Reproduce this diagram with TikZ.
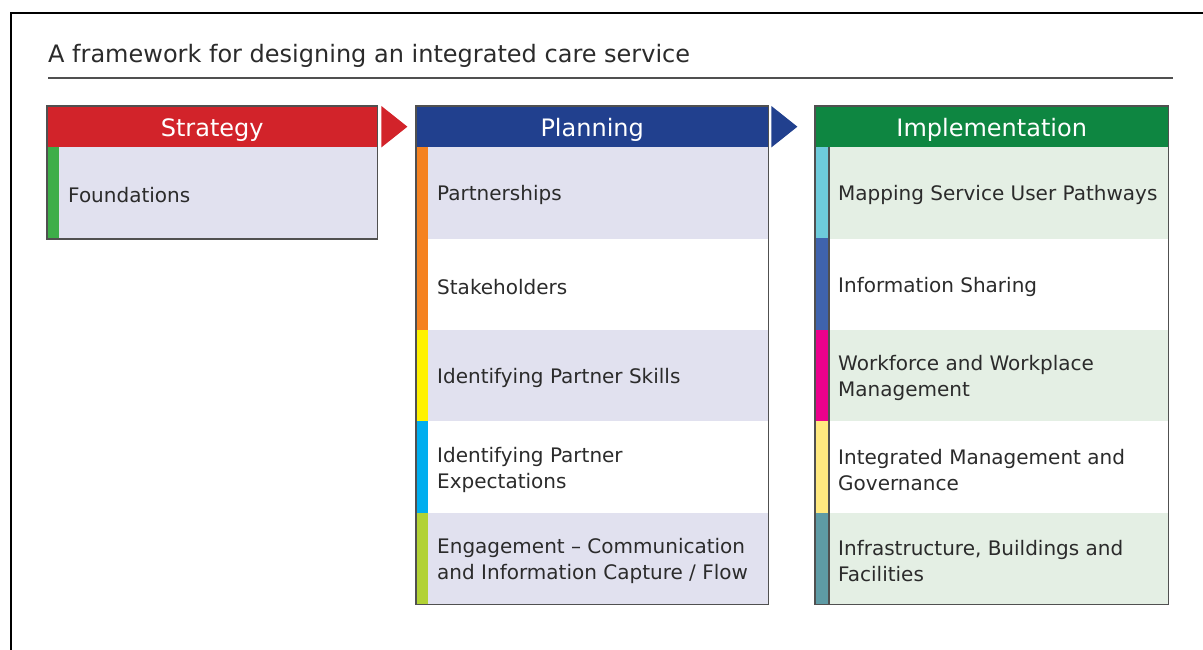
\documentclass[tikz,border=0pt]{standalone}
\usepackage{fontspec}
\setmainfont{DejaVu Sans}
\definecolor{txt}{HTML}{2B2B2B}
\definecolor{edge}{HTML}{505050}
\definecolor{stratred}{HTML}{D2232A}
\definecolor{planblue}{HTML}{21408E}
\definecolor{implgreen}{HTML}{0E8641}
\definecolor{lav}{HTML}{E1E1EF}
\definecolor{mint}{HTML}{E4EFE4}
\definecolor{fgreen}{HTML}{3DAE49}
\definecolor{porange}{HTML}{F58220}
\definecolor{pyellow}{HTML}{FFF200}
\definecolor{pcyan}{HTML}{00AEEF}
\definecolor{plime}{HTML}{B2D235}
\definecolor{iaqua}{HTML}{6DCBDB}
\definecolor{iblue}{HTML}{3F63AD}
\definecolor{imagenta}{HTML}{EC008C}
\definecolor{iyellow}{HTML}{FFE97F}
\definecolor{iteal}{HTML}{5E9BA5}
\begin{document}
\begin{tikzpicture}[x=1pt,y=-1pt,
  head/.style={anchor=north west,minimum height=41,inner sep=0,text height=19.5,text depth=0,text=white,font=\fontsize{24}{28}\selectfont},
  row/.style={anchor=north west,minimum height=91.4,inner sep=0},
  lbl/.style={anchor=west,inner sep=0,align=left,text=txt,font=\fontsize{20}{26}\selectfont},
  frame/.style={draw=edge,line width=1.5}]
\useasboundingbox (0,0) rectangle (1203,650);
\draw[line width=2.5] (11,650) -- (11,13) -- (1203,13);
\node[anchor=base west,text=txt,inner sep=0,font=\fontsize{24}{28}\selectfont] (title) at (48,63) {A framework for designing an integrated care service};
\draw[edge,line width=1.2] (48,78) -- (1173,78);
% strategy
\node[head,fill=stratred,minimum width=330] (strat) at (47,106) {Strategy};
\node[row,fill=lav,minimum width=318] (s1) at (59,147) {};
\node[lbl] (s1t) at ([xshift=9,yshift=-2.5]s1.west) {Foundations};
\fill[fgreen] (strat.south west) rectangle (s1.south west);
\draw[frame] (strat.north west) rectangle (s1.south east);
\fill[stratred] ([xshift=4]strat.north east) -- ([xshift=30]strat.east) -- ([xshift=4]strat.south east) -- cycle;
% planning
\node[head,fill=planblue,minimum width=352] (plan) at (416,106) {Planning};
\foreach \t/\c [count=\i] in {Partnerships/porange, Stakeholders/porange, Identifying Partner Skills/pyellow,
  {Identifying Partner\\Expectations}/pcyan, {Engagement – Communication\\and Information Capture / Flow}/plime} {
  \pgfmathsetmacro\yy{147+(\i-1)*91.4}
  \ifodd\i \def\bg{lav}\else \def\bg{white}\fi
  \node[row,fill=\bg,minimum width=340] (p\i) at (428,\yy) {};
  \node[lbl] (p\i t) at ([xshift=9,yshift=-2.5]p\i.west) {\t};
  \fill[\c] (p\i.north west) rectangle ([xshift=-12]p\i.south west);
}
\draw[frame] (plan.north west) rectangle (p5.south east);
\fill[planblue] ([xshift=3]plan.north east) -- ([xshift=29]plan.east) -- ([xshift=3]plan.south east) -- cycle;
% implementation
\node[head,fill=implgreen,minimum width=353] (impl) at (815,106) {Implementation};
\foreach \t/\c [count=\i] in {Mapping Service User Pathways/iaqua, Information Sharing/iblue,
  {Workforce and Workplace\\Management}/imagenta, {Integrated Management and\\Governance}/iyellow,
  {Infrastructure, Buildings and\\Facilities}/iteal} {
  \pgfmathsetmacro\yy{147+(\i-1)*91.4}
  \ifodd\i \def\bg{mint}\else \def\bg{white}\fi
  \node[row,fill=\bg,minimum width=339] (i\i) at (829,\yy) {};
  \node[lbl] (i\i t) at ([xshift=9,yshift=-2.5]i\i.west) {\t};
  \fill[\c] (i\i.north west) rectangle ([xshift=-14]i\i.south west);
}
\draw[frame] (impl.north west) rectangle (i5.south east);
\draw[frame] (i1.north west) -- (i5.south west);
\end{tikzpicture}
\end{document}
